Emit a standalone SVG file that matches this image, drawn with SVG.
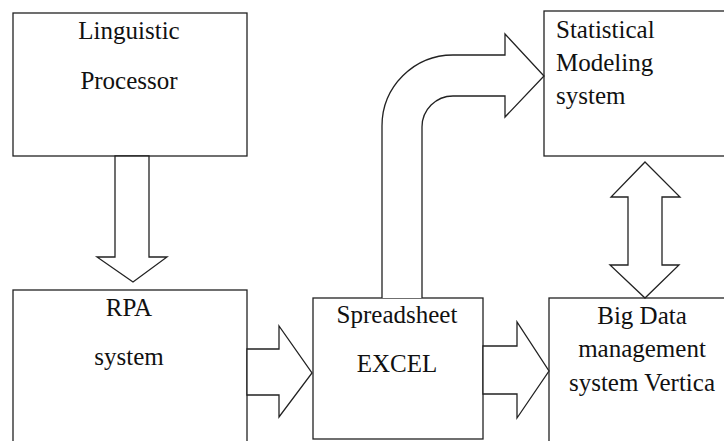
<svg xmlns="http://www.w3.org/2000/svg" width="724" height="441" viewBox="0 0 724 441">
<style>
.box{fill:#fff;stroke:#222;stroke-width:1.3}
.arr{fill:#fff;stroke:#222;stroke-width:1.3;stroke-linejoin:miter}
text{font-family:"Liberation Serif","Times New Roman",serif;font-size:25px;fill:#111}
.c{text-anchor:middle}
</style>
<rect x="0" y="0" width="724" height="441" fill="#fff"/>
<g id="linguistic">
<rect class="box" x="13" y="13" width="234" height="143"/>
<text class="c" x="129" y="39">Linguistic</text>
<text class="c" x="129" y="89">Processor</text>
</g>
<g id="rpa">
<rect class="box" x="13" y="290" width="234" height="170"/>
<text class="c" x="129" y="316">RPA</text>
<text class="c" x="129" y="365">system</text>
</g>
<g id="spreadsheet">
<rect class="box" x="313" y="298" width="170" height="141"/>
<text class="c" x="397" y="323">Spreadsheet</text>
<text class="c" x="397" y="372">EXCEL</text>
</g>
<g id="statistical">
<rect class="box" x="544" y="11" width="200" height="145"/>
<text x="556" y="38">Statistical</text>
<text x="556" y="71">Modeling</text>
<text x="556" y="104">system</text>
</g>
<g id="bigdata">
<rect class="box" x="549" y="298" width="200" height="170"/>
<text class="c" x="642" y="324">Big Data</text>
<text class="c" x="642" y="357">management</text>
<text class="c" x="642" y="391">system Vertica</text>
</g>
<g id="connectors">
<polygon class="arr" points="115,156 149,156 149,257 167,257 133,282 97,257 115,257"/>
<polygon class="arr" points="247,349 279,349 279,326 312,373 279,417 279,395 247,395"/>
<polygon class="arr" points="483,346 517,346 517,322 549,371 517,418 517,394 483,394"/>
<polygon class="arr" points="645,162 680,197 662,197 662,265 679,265 645,298 610,265 628,265 628,197 611,197"/>
<path class="arr" d="M382,298 L382,126 A71,71 0 0 1 453,55 L505,55 L505,34 L544,76 L505,117 L505,96 L453,96 A31,31 0 0 0 422,127 L422,298"/>
</g>
</svg>
